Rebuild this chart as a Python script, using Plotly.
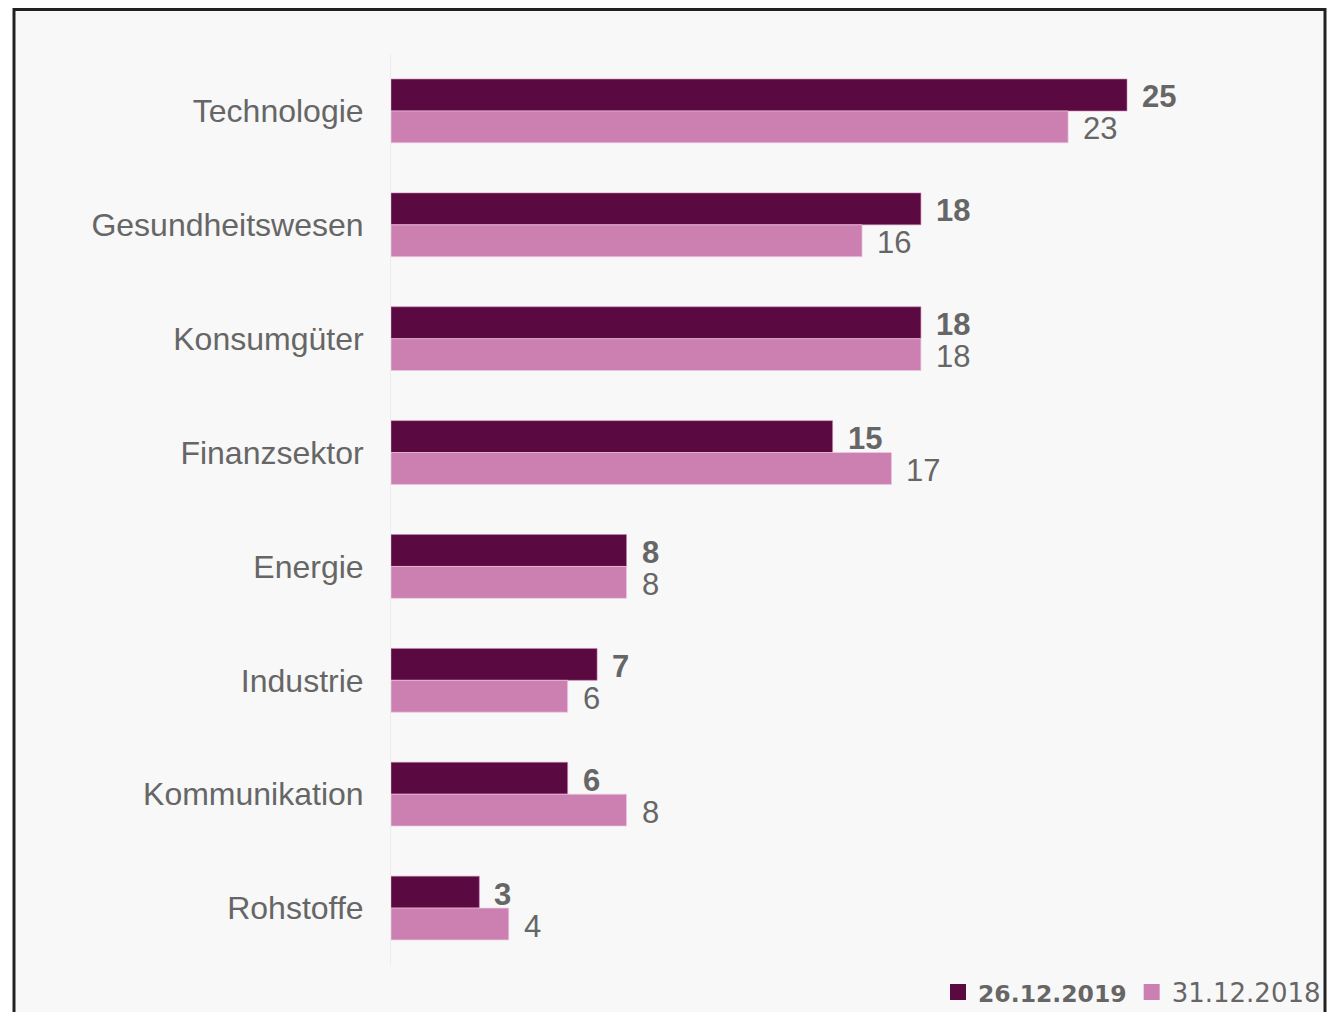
import plotly.graph_objects as go

categories = ["Technologie", "Gesundheitswesen", "Konsumgüter", "Finanzsektor",
              "Energie", "Industrie", "Kommunikation", "Rohstoffe"]
values_2019 = [25, 18, 18, 15, 8, 7, 6, 3]
values_2018 = [23, 16, 18, 17, 8, 6, 8, 4]
series_names = ["26.12.2019", "31.12.2018"]

DARK = "#5a0941"
PINK = "#cb80b1"
GREY = "#666666"

OFF = 8  # page body margin (screen px = figure px + OFF)
W, H = 1319, 1004
PLOT_L, PLOT_R, PLOT_T, PLOT_B = 391, 1300, 54, 965  # screen px
ML = PLOT_L - OFF
MT = PLOT_T - OFF
MR = W - (PLOT_R - OFF)
MB = H - (PLOT_B - OFF)
PW = W - ML - MR
PH = H - MT - MB
PX_PER_UNIT = 29.44
XMAX = PW / PX_PER_UNIT


def px2paper_x(p):
    return (p - OFF - ML) / PW


def px2paper_y(p):
    return (H - MB - (p - OFF)) / PH


fig = go.Figure()
fig.add_trace(go.Bar(
    y=categories, x=values_2019, orientation="h", name=series_names[0],
    marker=dict(color=DARK, line=dict(color="rgba(203,128,177,0.6)", width=1)),
    hoverinfo="x+y", showlegend=False,
))
fig.add_trace(go.Bar(
    y=categories, x=values_2018, orientation="h", name=series_names[1],
    marker=dict(color=PINK, line=dict(color="rgba(240,200,225,0.7)", width=1)),
    hoverinfo="x+y", showlegend=False,
))
# legend entries with larger square swatches
fig.add_trace(go.Scatter(
    x=[None], y=[None], mode="markers",
    name="<span style='font-size:23.5px'><b>" + series_names[0] + "</b></span>",
    marker=dict(symbol="square", size=17, color=DARK), showlegend=True,
))
fig.add_trace(go.Scatter(
    x=[None], y=[None], mode="markers", name=series_names[1],
    marker=dict(symbol="square", size=17, color=PINK), showlegend=True,
))

annotations = []
for cat, v in zip(categories, values_2019):
    annotations.append(dict(
        x=v, y=cat, xref="x", yref="y", text="<b>%d</b>" % v, showarrow=False,
        xanchor="left", yanchor="middle", xshift=14, yshift=14, borderpad=0,
        font=dict(family="Liberation Sans, Arial", size=31, color=GREY),
    ))
for cat, v in zip(categories, values_2018):
    annotations.append(dict(
        x=v, y=cat, xref="x", yref="y", text="%d" % v, showarrow=False,
        xanchor="left", yanchor="middle", xshift=14, yshift=-18, borderpad=0,
        font=dict(family="Liberation Sans, Arial", size=31, color=GREY),
    ))

fig.update_layout(
    width=W, height=H,
    margin=dict(l=ML, r=MR, t=MT, b=MB, autoexpand=False),
    barmode="group", bargap=0.44, bargroupgap=0,
    paper_bgcolor="white", plot_bgcolor="rgba(0,0,0,0)",
    showlegend=True,
    legend=dict(
        orientation="h", x=px2paper_x(1326), xanchor="right",
        y=px2paper_y(992), yanchor="middle",
        font=dict(family="DejaVu Sans, Verdana", size=26, color=GREY),
        bgcolor="rgba(0,0,0,0)", itemwidth=30, tracegroupgap=0,
    ),
    annotations=annotations,
    shapes=[dict(
        type="rect", xref="paper", yref="paper", layer="below",
        x0=px2paper_x(14), x1=px2paper_x(1325),
        y0=px2paper_y(OFF + 1.5), y1=px2paper_y(1060),
        line=dict(color="#222222", width=3), fillcolor="#f8f8f8",
    )],
    xaxis=dict(range=[0, XMAX], showgrid=False, zeroline=False, showticklabels=False,
               showline=False, fixedrange=True),
    yaxis=dict(autorange="reversed", showgrid=False, zeroline=False,
               showline=True, linecolor="#ececec", linewidth=1,
               ticks="", ticklabelstandoff=20,
               tickfont=dict(family="Liberation Sans, Arial", size=32, color=GREY)),
)

fig.write_html("out.html")
